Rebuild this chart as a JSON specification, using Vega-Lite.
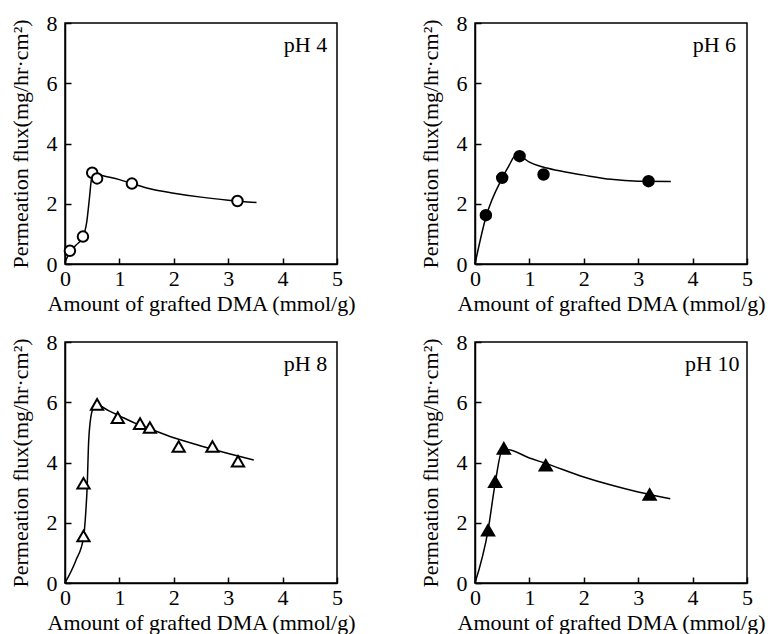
{
  "$schema": "https://vega.github.io/schema/vega-lite/v6.json",
  "padding": {"left": 8, "top": 11, "right": 5, "bottom": 0},
  "datasets": {
    "rows": [
      {"panel": "pH 4", "kind": "curve", "x": 0.0, "y": 0.05},
      {"panel": "pH 4", "kind": "curve", "x": 0.09, "y": 0.4},
      {"panel": "pH 4", "kind": "curve", "x": 0.2, "y": 0.62},
      {"panel": "pH 4", "kind": "curve", "x": 0.33, "y": 0.9},
      {"panel": "pH 4", "kind": "curve", "x": 0.4, "y": 1.4},
      {"panel": "pH 4", "kind": "curve", "x": 0.45, "y": 2.2},
      {"panel": "pH 4", "kind": "curve", "x": 0.49, "y": 2.85},
      {"panel": "pH 4", "kind": "curve", "x": 0.55, "y": 3.0},
      {"panel": "pH 4", "kind": "curve", "x": 0.7, "y": 2.93},
      {"panel": "pH 4", "kind": "curve", "x": 1.0, "y": 2.8},
      {"panel": "pH 4", "kind": "curve", "x": 1.23, "y": 2.67},
      {"panel": "pH 4", "kind": "curve", "x": 1.6, "y": 2.48},
      {"panel": "pH 4", "kind": "curve", "x": 2.0, "y": 2.35},
      {"panel": "pH 4", "kind": "curve", "x": 2.5, "y": 2.22},
      {"panel": "pH 4", "kind": "curve", "x": 3.0, "y": 2.12},
      {"panel": "pH 4", "kind": "curve", "x": 3.52, "y": 2.04},
      {"panel": "pH 4", "kind": "pt", "x": 0.09, "y": 0.44},
      {"panel": "pH 4", "kind": "pt", "x": 0.33, "y": 0.91},
      {"panel": "pH 4", "kind": "pt", "x": 0.5, "y": 3.03},
      {"panel": "pH 4", "kind": "pt", "x": 0.59, "y": 2.84},
      {"panel": "pH 4", "kind": "pt", "x": 1.23, "y": 2.67},
      {"panel": "pH 4", "kind": "pt", "x": 3.17, "y": 2.09},
      {"panel": "pH 4", "kind": "label", "x": 4.82, "y": 7.05},

      {"panel": "pH 6", "kind": "curve", "x": 0.0, "y": 0.0},
      {"panel": "pH 6", "kind": "curve", "x": 0.2, "y": 1.55},
      {"panel": "pH 6", "kind": "curve", "x": 0.5, "y": 2.85},
      {"panel": "pH 6", "kind": "curve", "x": 0.62, "y": 3.25},
      {"panel": "pH 6", "kind": "curve", "x": 0.75, "y": 3.6},
      {"panel": "pH 6", "kind": "curve", "x": 0.85, "y": 3.56},
      {"panel": "pH 6", "kind": "curve", "x": 1.0, "y": 3.38},
      {"panel": "pH 6", "kind": "curve", "x": 1.25, "y": 3.22},
      {"panel": "pH 6", "kind": "curve", "x": 1.5, "y": 3.11},
      {"panel": "pH 6", "kind": "curve", "x": 2.0, "y": 2.95},
      {"panel": "pH 6", "kind": "curve", "x": 2.5, "y": 2.81},
      {"panel": "pH 6", "kind": "curve", "x": 3.0, "y": 2.75},
      {"panel": "pH 6", "kind": "curve", "x": 3.6, "y": 2.74},
      {"panel": "pH 6", "kind": "pt", "x": 0.2, "y": 1.62},
      {"panel": "pH 6", "kind": "pt", "x": 0.5, "y": 2.86},
      {"panel": "pH 6", "kind": "pt", "x": 0.82, "y": 3.58},
      {"panel": "pH 6", "kind": "pt", "x": 1.26, "y": 2.97},
      {"panel": "pH 6", "kind": "pt", "x": 3.19, "y": 2.75},
      {"panel": "pH 6", "kind": "label", "x": 4.8, "y": 7.05},

      {"panel": "pH 8", "kind": "curve", "x": 0.0, "y": 0.0},
      {"panel": "pH 8", "kind": "curve", "x": 0.2, "y": 0.75},
      {"panel": "pH 8", "kind": "curve", "x": 0.34, "y": 1.5},
      {"panel": "pH 8", "kind": "curve", "x": 0.38, "y": 2.3},
      {"panel": "pH 8", "kind": "curve", "x": 0.41, "y": 3.3},
      {"panel": "pH 8", "kind": "curve", "x": 0.43, "y": 4.5},
      {"panel": "pH 8", "kind": "curve", "x": 0.46, "y": 5.3},
      {"panel": "pH 8", "kind": "curve", "x": 0.52, "y": 5.8},
      {"panel": "pH 8", "kind": "curve", "x": 0.6, "y": 5.9},
      {"panel": "pH 8", "kind": "curve", "x": 0.8, "y": 5.72},
      {"panel": "pH 8", "kind": "curve", "x": 1.0, "y": 5.55},
      {"panel": "pH 8", "kind": "curve", "x": 1.3, "y": 5.3},
      {"panel": "pH 8", "kind": "curve", "x": 1.56, "y": 5.12},
      {"panel": "pH 8", "kind": "curve", "x": 2.0, "y": 4.82},
      {"panel": "pH 8", "kind": "curve", "x": 2.5, "y": 4.55},
      {"panel": "pH 8", "kind": "curve", "x": 3.0, "y": 4.3},
      {"panel": "pH 8", "kind": "curve", "x": 3.47, "y": 4.08},
      {"panel": "pH 8", "kind": "pt", "x": 0.34, "y": 1.56},
      {"panel": "pH 8", "kind": "pt", "x": 0.34, "y": 3.31},
      {"panel": "pH 8", "kind": "pt", "x": 0.59, "y": 5.93},
      {"panel": "pH 8", "kind": "pt", "x": 0.97, "y": 5.49},
      {"panel": "pH 8", "kind": "pt", "x": 1.38, "y": 5.29},
      {"panel": "pH 8", "kind": "pt", "x": 1.56, "y": 5.16},
      {"panel": "pH 8", "kind": "pt", "x": 2.09, "y": 4.53},
      {"panel": "pH 8", "kind": "pt", "x": 2.71, "y": 4.53},
      {"panel": "pH 8", "kind": "pt", "x": 3.18, "y": 4.04},
      {"panel": "pH 8", "kind": "label", "x": 4.82, "y": 7.05},

      {"panel": "pH 10", "kind": "curve", "x": 0.0, "y": 0.0},
      {"panel": "pH 10", "kind": "curve", "x": 0.24, "y": 1.75},
      {"panel": "pH 10", "kind": "curve", "x": 0.37, "y": 3.3},
      {"panel": "pH 10", "kind": "curve", "x": 0.5, "y": 4.4},
      {"panel": "pH 10", "kind": "curve", "x": 0.6, "y": 4.42},
      {"panel": "pH 10", "kind": "curve", "x": 1.0, "y": 4.15},
      {"panel": "pH 10", "kind": "curve", "x": 1.3, "y": 3.97},
      {"panel": "pH 10", "kind": "curve", "x": 2.0, "y": 3.52},
      {"panel": "pH 10", "kind": "curve", "x": 2.5, "y": 3.25},
      {"panel": "pH 10", "kind": "curve", "x": 3.0, "y": 3.02},
      {"panel": "pH 10", "kind": "curve", "x": 3.59, "y": 2.8},
      {"panel": "pH 10", "kind": "pt", "x": 0.24, "y": 1.75},
      {"panel": "pH 10", "kind": "pt", "x": 0.37, "y": 3.36},
      {"panel": "pH 10", "kind": "pt", "x": 0.53, "y": 4.47},
      {"panel": "pH 10", "kind": "pt", "x": 1.3, "y": 3.91},
      {"panel": "pH 10", "kind": "pt", "x": 3.21, "y": 2.94},
      {"panel": "pH 10", "kind": "label", "x": 4.86, "y": 7.05}
    ]
  },
  "columns": 2,
  "spacing": {"row": 78, "column": 138},
  "bounds": "flush",
  "concat": [
    {
      "data": {"name": "rows"},
      "transform": [{"filter": "datum.panel === 'pH 4'"}],
      "width": 272, "height": 241,
      "encoding": {
        "x": {"field": "x", "type": "quantitative", "scale": {"domain": [0, 5], "nice": false, "zero": false}, "axis": {"values": [0, 1, 2, 3, 4, 5], "title": "Amount of grafted DMA (mmol/g)"}},
        "y": {"field": "y", "type": "quantitative", "scale": {"domain": [0, 8], "nice": false, "zero": false}, "axis": {"values": [0, 2, 4, 6, 8], "title": "Permeation flux(mg/hr·cm²)"}}
      },
      "layer": [
        {"transform": [{"filter": "datum.kind === 'curve'"}], "mark": {"type": "line", "interpolate": "monotone", "color": "black", "strokeWidth": 1.5}, "encoding": {"order": {"field": "x", "type": "quantitative"}}},
        {"transform": [{"filter": "datum.kind === 'pt'"}], "mark": {"type": "point", "shape": "circle", "filled": true, "fill": "white", "stroke": "black", "strokeWidth": 2, "opacity": 1, "size": 110}},
        {"transform": [{"filter": "datum.kind === 'label'"}], "mark": {"type": "text", "align": "right", "baseline": "alphabetic", "font": "Liberation Serif", "fontSize": 22, "color": "black"}, "encoding": {"text": {"field": "panel"}}}
      ]
    },
    {
      "data": {"name": "rows"},
      "transform": [{"filter": "datum.panel === 'pH 6'"}],
      "width": 272, "height": 241,
      "encoding": {
        "x": {"field": "x", "type": "quantitative", "scale": {"domain": [0, 5], "nice": false, "zero": false}, "axis": {"values": [0, 1, 2, 3, 4, 5], "title": "Amount of grafted DMA (mmol/g)"}},
        "y": {"field": "y", "type": "quantitative", "scale": {"domain": [0, 8], "nice": false, "zero": false}, "axis": {"values": [0, 2, 4, 6, 8], "title": "Permeation flux(mg/hr·cm²)"}}
      },
      "layer": [
        {"transform": [{"filter": "datum.kind === 'curve'"}], "mark": {"type": "line", "interpolate": "monotone", "color": "black", "strokeWidth": 1.5}, "encoding": {"order": {"field": "x", "type": "quantitative"}}},
        {"transform": [{"filter": "datum.kind === 'pt'"}], "mark": {"type": "point", "shape": "circle", "filled": true, "fill": "black", "stroke": "black", "strokeWidth": 2, "opacity": 1, "size": 110}},
        {"transform": [{"filter": "datum.kind === 'label'"}], "mark": {"type": "text", "align": "right", "baseline": "alphabetic", "font": "Liberation Serif", "fontSize": 22, "color": "black"}, "encoding": {"text": {"field": "panel"}}}
      ]
    },
    {
      "data": {"name": "rows"},
      "transform": [{"filter": "datum.panel === 'pH 8'"}],
      "width": 272, "height": 241,
      "encoding": {
        "x": {"field": "x", "type": "quantitative", "scale": {"domain": [0, 5], "nice": false, "zero": false}, "axis": {"values": [0, 1, 2, 3, 4, 5], "title": "Amount of grafted DMA (mmol/g)"}},
        "y": {"field": "y", "type": "quantitative", "scale": {"domain": [0, 8], "nice": false, "zero": false}, "axis": {"values": [0, 2, 4, 6, 8], "title": "Permeation flux(mg/hr·cm²)"}}
      },
      "layer": [
        {"transform": [{"filter": "datum.kind === 'curve'"}], "mark": {"type": "line", "interpolate": "monotone", "color": "black", "strokeWidth": 1.5}, "encoding": {"order": {"field": "x", "type": "quantitative"}}},
        {"transform": [{"filter": "datum.kind === 'pt'"}], "mark": {"type": "point", "shape": "triangle-up", "filled": true, "fill": "white", "stroke": "black", "strokeWidth": 2, "opacity": 1, "size": 150}},
        {"transform": [{"filter": "datum.kind === 'label'"}], "mark": {"type": "text", "align": "right", "baseline": "alphabetic", "font": "Liberation Serif", "fontSize": 22, "color": "black"}, "encoding": {"text": {"field": "panel"}}}
      ]
    },
    {
      "data": {"name": "rows"},
      "transform": [{"filter": "datum.panel === 'pH 10'"}],
      "width": 272, "height": 241,
      "encoding": {
        "x": {"field": "x", "type": "quantitative", "scale": {"domain": [0, 5], "nice": false, "zero": false}, "axis": {"values": [0, 1, 2, 3, 4, 5], "title": "Amount of grafted DMA (mmol/g)"}},
        "y": {"field": "y", "type": "quantitative", "scale": {"domain": [0, 8], "nice": false, "zero": false}, "axis": {"values": [0, 2, 4, 6, 8], "title": "Permeation flux(mg/hr·cm²)"}}
      },
      "layer": [
        {"transform": [{"filter": "datum.kind === 'curve'"}], "mark": {"type": "line", "interpolate": "monotone", "color": "black", "strokeWidth": 1.5}, "encoding": {"order": {"field": "x", "type": "quantitative"}}},
        {"transform": [{"filter": "datum.kind === 'pt'"}], "mark": {"type": "point", "shape": "triangle-up", "filled": true, "fill": "black", "stroke": "black", "strokeWidth": 2, "opacity": 1, "size": 150}},
        {"transform": [{"filter": "datum.kind === 'label'"}], "mark": {"type": "text", "align": "right", "baseline": "alphabetic", "font": "Liberation Serif", "fontSize": 22, "color": "black"}, "encoding": {"text": {"field": "panel"}}}
      ]
    }
  ],
  "config": {
    "view": {"stroke": "black", "strokeWidth": 1.5},
    "axis": {
      "grid": false,
      "domainColor": "black",
      "domainWidth": 1.5,
      "tickColor": "black",
      "tickWidth": 1.5,
      "tickSize": -6,
      "labelFont": "Liberation Serif",
      "labelFontSize": 22,
      "labelColor": "black",
      "labelFlush": false,
      "labelOverlap": false,
      "titleFont": "Liberation Serif",
      "titleFontSize": 22,
      "titleFontWeight": "normal",
      "titleColor": "black"
    },
    "axisX": {"labelPadding": 10, "titlePadding": 4},
    "axisY": {"labelPadding": 14, "titlePadding": 14}
  }
}
